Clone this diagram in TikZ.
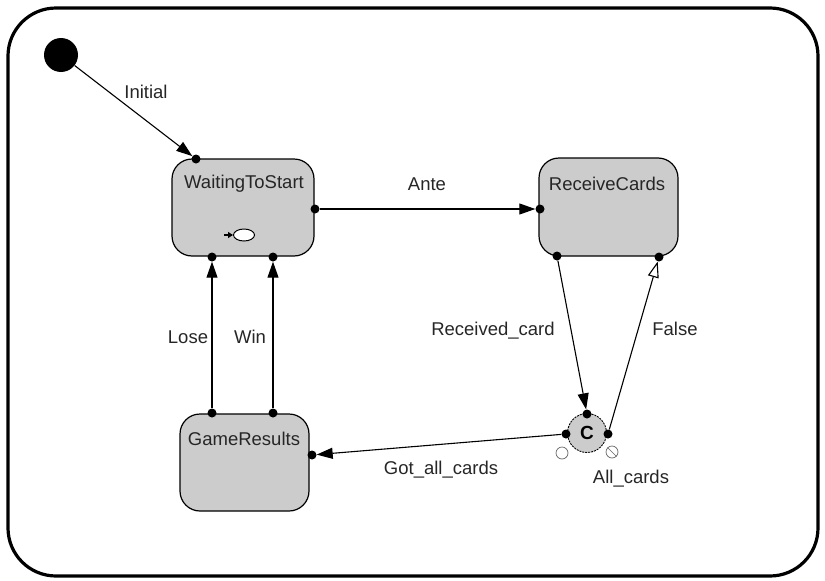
\documentclass[tikz,border=0pt]{standalone}
\usepackage{fontspec}
\setmainfont{Liberation Sans}
\usetikzlibrary{arrows.meta,shapes.geometric}
\definecolor{stategray}{RGB}{204,204,204}
\begin{document}
\begin{tikzpicture}[x=1pt,y=-1pt,
  statebox/.style={draw=black, line width=1.2pt, fill=stategray, rounded corners=20pt, inner sep=0pt},
  pin/.style={circle, fill=black, inner sep=0pt, minimum size=9pt},
  lbl/.style={font=\fontsize{18.5}{21}\selectfont, text=black!85, inner sep=0pt},
  tr/.style={line width=1.1pt, -{Triangle[length=16pt,width=11pt]}},
  tropen/.style={line width=1.1pt, -{Triangle[open,length=16pt,width=11pt]}},
]
\useasboundingbox (0,0) rectangle (825,581);
% outer frame
\draw[line width=3.2pt, rounded corners=48pt] (8,8) rectangle (818,576);

% states
\node[statebox, minimum width=142pt, minimum height=97pt] (wts) at (243,207.5) {};
\node[lbl] (wtsl) at (244,184) {WaitingToStart};
\node[statebox, minimum width=139pt, minimum height=98pt] (rc) at (608.5,207) {};
\node[lbl] (rcl) at (607,184) {ReceiveCards};
\node[statebox, minimum width=129pt, minimum height=97pt] (gr) at (244.5,462.5) {};
\node[lbl] (grl) at (244,439) {GameResults};

% entry icon
\node[draw=black, line width=1pt, fill=white, ellipse, minimum width=21pt, minimum height=12pt, inner sep=0pt] (icon) at (244,235) {};
\coordinate (iconin) at (224,235);
\draw[line width=1.3pt, -{Triangle[length=5pt,width=6pt]}] (iconin) -- (icon.west);

% initial pseudo state
\node[circle, fill=black, inner sep=0pt, minimum size=34pt] (init) at (61,55) {};

% choice
\node[circle, draw=black, line width=0.9pt, dash pattern=on 2pt off 1pt, fill=stategray, minimum size=39pt, inner sep=0pt, font=\fontsize{19}{21}\selectfont\bfseries] (ch) at (587,433) {C};
\node[circle, draw=black!60, line width=0.7pt, fill=white, minimum size=12pt, inner sep=0pt] (chempty) at (562,453) {};
\node[circle, draw=black!60, line width=0.7pt, fill=white, minimum size=12pt, inner sep=0pt] (chhatch) at (612,452) {};
\draw[black!60, line width=0.7pt] (chhatch.north west) -- (chhatch.south east);

% pins
\node[pin] (pWi) at (196,159) {};
\node[pin] (pWante) at (315,209) {};
\node[pin] (pRante) at (540,209) {};
\node[pin] (pWlose) at (212,257) {};
\node[pin] (pWwin) at (273,257) {};
\node[pin] (pGlose) at (212,413) {};
\node[pin] (pGwin) at (273,413) {};
\node[pin] (pGgot) at (312,455) {};
\node[pin] (pRrec) at (557,256) {};
\node[pin] (pRfalse) at (659,257) {};
\node[pin] (pCrec) at (587,414) {};
\node[pin] (pCfalse) at (608,434) {};
\node[pin] (pCgot) at (566,434) {};

% transitions
\draw[tr] (init) -- (pWi);
\draw[tr] (pWante) -- (pRante);
\draw[tr] (pGlose) -- (pWlose);
\draw[tr] (pGwin) -- (pWwin);
\draw[tr] (pRrec) -- (pCrec);
\draw[tropen] (pCfalse) -- (pRfalse);
\draw[tr] (pCgot) -- (pGgot);

% labels
\node[lbl] (lInit) at (146,92) {Initial};
\node[lbl] (lAnte) at (427,184) {Ante};
\node[lbl] (lLose) at (188,337) {Lose};
\node[lbl] (lWin) at (250,337) {Win};
\node[lbl] (lRec) at (493,331) {Received\_card};
\node[lbl] (lFalse) at (675,329) {False};
\node[lbl] (lGot) at (441,470) {Got\_all\_cards};
\node[lbl] (lAll) at (631,479) {All\_cards};
\end{tikzpicture}
\end{document}
